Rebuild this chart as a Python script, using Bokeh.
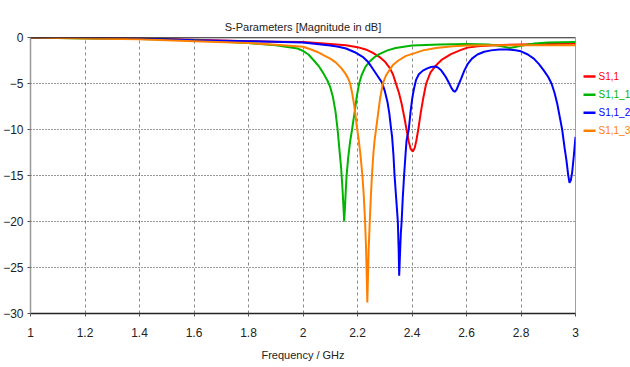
from bokeh.plotting import figure
from bokeh.models import Range1d, Span, FixedTicker
from bokeh.layouts import row
from bokeh.core.properties import value
from bokeh.embed import file_html
from bokeh.resources import INLINE

# ---- S-parameter traces (frequency in GHz, magnitude in dB) ----
s11_freq = [1.0, 1.2, 1.4, 1.6, 1.8, 1.9, 2.0, 2.05, 2.1, 2.158, 2.2, 2.23, 2.255, 2.28, 2.3,
            2.318, 2.33, 2.34, 2.352, 2.362, 2.372, 2.38, 2.388, 2.395, 2.403, 2.41, 2.416,
            2.423, 2.432, 2.44, 2.452, 2.468, 2.486, 2.51, 2.543, 2.58, 2.604, 2.64, 2.7,
            2.8, 2.9, 3.0]
s11_db = [0.0, -0.05, -0.1, -0.25, -0.4, -0.45, -0.5, -0.6, -0.7, -0.85, -1.05, -1.3, -1.65, -2.1, -2.6,
          -3.3, -4.0, -4.9, -6.0, -7.2, -8.7, -10.0, -11.3, -12.1, -12.4, -12.0, -11.2,
          -10.0, -8.2, -6.8, -5.0, -3.8, -3.1, -2.4, -1.8, -1.35, -1.1, -0.95, -0.85,
          -0.75, -0.7, -0.65]

s11_1_freq = [1.0, 1.2, 1.4, 1.6, 1.8, 1.9, 1.98, 2.0, 2.02, 2.04, 2.06, 2.075, 2.09, 2.1, 2.11,
              2.119, 2.127, 2.134, 2.14, 2.145, 2.149, 2.151, 2.154, 2.157, 2.16, 2.166,
              2.173, 2.18, 2.19, 2.198, 2.206, 2.215, 2.229, 2.245, 2.262, 2.28, 2.31, 2.34,
              2.4, 2.5, 2.6, 2.68, 2.72, 2.76, 2.8, 2.85, 2.9, 3.0]
s11_1_db = [0.0, -0.1, -0.15, -0.3, -0.6, -0.85, -1.2, -1.45, -1.85, -2.5, -3.2, -3.9, -4.7, -5.4, -6.5,
            -8.0, -10.0, -12.3, -14.2, -16.5, -18.7, -20.0, -18.5, -16.6, -15.0, -13.0,
            -11.3, -10.0, -8.0, -6.3, -5.0, -4.1, -3.2, -2.6, -2.15, -1.8, -1.4, -1.15,
            -0.87, -0.75, -0.72, -0.75, -0.9, -1.15, -0.9, -0.65, -0.55, -0.5]

s11_2_freq = [1.0, 1.2, 1.4, 1.6, 1.8, 2.0, 2.05, 2.1, 2.13, 2.158, 2.19, 2.219, 2.24, 2.256,
              2.272, 2.29, 2.3, 2.31, 2.317, 2.322, 2.327, 2.332, 2.336, 2.342, 2.348, 2.351,
              2.353, 2.356, 2.359, 2.362, 2.366, 2.371, 2.376, 2.38, 2.388, 2.395, 2.401,
              2.407, 2.415, 2.425, 2.44, 2.456, 2.47, 2.484, 2.495, 2.505, 2.515, 2.524,
              2.535, 2.545, 2.552, 2.557, 2.563, 2.57, 2.58, 2.592, 2.604, 2.62, 2.64, 2.665,
              2.69, 2.72, 2.75, 2.78, 2.8, 2.825, 2.847, 2.866, 2.884, 2.9, 2.912, 2.923,
              2.933, 2.942, 2.951, 2.96, 2.967, 2.973, 2.978, 2.983, 2.988, 2.994, 3.0]
s11_2_db = [0.0, -0.05, -0.1, -0.3, -0.4, -0.55, -0.7, -0.87, -1.0, -1.2, -1.6, -2.1, -2.7, -3.4,
            -4.1, -4.9, -5.8, -7.0, -8.3, -9.6, -10.8, -12.8, -15.0, -17.5, -20.0, -23.0,
            -25.9, -23.5, -21.3, -20.0, -17.5, -15.0, -12.8, -11.2, -10.0, -8.0, -6.6,
            -5.6, -4.6, -4.0, -3.6, -3.35, -3.2, -3.15, -3.25, -3.5, -3.9, -4.3,
            -4.9, -5.5, -5.8, -5.9, -5.7, -5.2, -4.5, -3.6, -2.9, -2.3, -1.85, -1.55,
            -1.4, -1.3, -1.3, -1.38, -1.5, -1.85, -2.3, -2.9, -3.6, -4.3, -5.0, -6.0,
            -7.2, -8.6, -10.0, -12.0, -13.4, -14.9, -15.8, -15.5, -14.6, -12.8, -10.8]

s11_3_freq = [1.0, 1.2, 1.4, 1.6, 1.8, 1.9, 2.0, 2.03, 2.055, 2.08, 2.1, 2.12, 2.14, 2.155,
              2.165, 2.173, 2.18, 2.187, 2.193, 2.198, 2.204, 2.211, 2.218, 2.223, 2.227,
              2.231, 2.234, 2.236, 2.238, 2.241, 2.245, 2.249, 2.253, 2.258, 2.263, 2.268,
              2.275, 2.283, 2.293, 2.305, 2.318, 2.33, 2.35, 2.378, 2.41, 2.44, 2.488, 2.55,
              2.6, 2.7, 2.85, 3.0]
s11_3_db = [0.0, -0.1, -0.2, -0.4, -0.6, -0.8, -1.0, -1.3, -1.6, -2.0, -2.3, -2.7, -3.3, -3.9,
            -4.4, -5.0, -6.0, -7.2, -8.5, -9.8, -11.0, -12.8, -15.0, -17.2, -19.5,
            -22.5, -26.0, -28.8, -26.5, -23.0, -20.0, -17.3, -15.0, -12.7, -11.1, -10.0,
            -8.4, -6.6, -5.0, -4.1, -3.5, -3.0, -2.5, -2.0, -1.7, -1.4, -1.15, -0.95,
            -0.87, -0.85, -0.85, -0.85]

series_names = ["S1,1", "S1,1_1", "S1,1_2", "S1,1_3"]
series_colors = ["#ff0000", "#00b400", "#0000ff", "#ff8000"]
series_freqs = [s11_freq, s11_1_freq, s11_2_freq, s11_3_freq]
series_dbs = [s11_db, s11_1_db, s11_2_db, s11_3_db]

x_ticks = [1.0, 1.2, 1.4, 1.6, 1.8, 2.0, 2.2, 2.4, 2.6, 2.8, 3.0]
x_tick_labels = {1.0: "1", 1.2: "1.2", 1.4: "1.4", 1.6: "1.6", 1.8: "1.8", 2.0: "2",
                 2.2: "2.2", 2.4: "2.4", 2.6: "2.6", 2.8: "2.8", 3.0: "3"}
y_ticks = [0, -5, -10, -15, -20, -25, -30]

FONT = "Liberation Sans"
TEXT_COLOR = "#222222"

p = figure(width=580, height=367, output_backend="svg", toolbar_location=None,
           x_range=Range1d(1, 3), y_range=Range1d(-30, 0),
           title="S-Parameters [Magnitude in dB]")
p.min_border_left = 29
p.min_border_right = 5
p.min_border_top = 37
p.min_border_bottom = 54
p.background_fill_color = "white"
p.border_fill_color = "white"
p.outline_line_color = "#a0a0a0"
p.outline_line_width = 1

p.title.align = "center"
p.title.text_font = FONT
p.title.text_font_size = "11px"
p.title.text_font_style = "normal"
p.title.text_color = TEXT_COLOR
p.title.offset = 0
p.title.standoff = 10

for ax in (p.xaxis[0], p.yaxis[0]):
    ax.major_label_text_font = FONT
    ax.major_label_text_font_size = "12px"
    ax.major_label_text_color = TEXT_COLOR
    ax.major_tick_in = 0
    ax.major_tick_out = 3
    ax.minor_tick_in = 0
    ax.minor_tick_out = 0

p.xaxis.ticker = FixedTicker(ticks=x_ticks)
p.xaxis.major_label_overrides = x_tick_labels
p.xaxis.major_label_standoff = 11
p.xaxis.axis_line_color = "#222222"
p.xaxis.axis_line_width = 1.5
p.xaxis.major_tick_line_color = "#555555"
p.xaxis.axis_label = "Frequency / GHz"
p.xaxis.axis_label_text_font = FONT
p.xaxis.axis_label_text_font_size = "11px"
p.xaxis.axis_label_text_font_style = "normal"
p.xaxis.axis_label_text_color = TEXT_COLOR
p.xaxis.axis_label_standoff = 9

p.yaxis.ticker = FixedTicker(ticks=y_ticks)
p.yaxis.major_label_standoff = 4
p.yaxis.axis_line_color = "#999999"
p.yaxis.axis_line_width = 1.5
p.yaxis.major_tick_line_color = "#555555"

p.xgrid.grid_line_color = "#888888"
p.xgrid.grid_line_dash = "3 3"
p.xgrid.grid_line_width = 1
p.ygrid.grid_line_color = "#333333"
p.ygrid.grid_line_dash = "1 2"
p.ygrid.grid_line_width = 1

# black line along the 0 dB edge
p.add_layout(Span(location=0, dimension="width", line_color="#111111", line_width=1.5))

for color, fr, db in zip(series_colors, series_freqs, series_dbs):
    p.line(fr, db, line_color=color, line_width=2)

# ---- legend panel at the right ----
leg = figure(width=50, height=367, output_backend="svg", toolbar_location=None,
             x_range=Range1d(0, 50), y_range=Range1d(367, 0))
leg.axis.visible = False
leg.grid.visible = False
leg.outline_line_color = None
leg.background_fill_color = "white"
leg.border_fill_color = "white"
leg.min_border = 0

row_y = [52 + 24 * i for i in range(len(series_names))]
leg.segment(x0=[3] * len(row_y), y0=row_y, x1=[15] * len(row_y), y1=row_y,
            line_color=series_colors, line_width=2.5)
leg.text(x=[18] * len(row_y), y=row_y, text=series_names,
         text_color=series_colors, text_font=value(FONT), text_font_size="10px",
         text_baseline="middle", text_align="left")

layout = row(p, leg)
open("out.html", "w").write(file_html(layout, INLINE))
